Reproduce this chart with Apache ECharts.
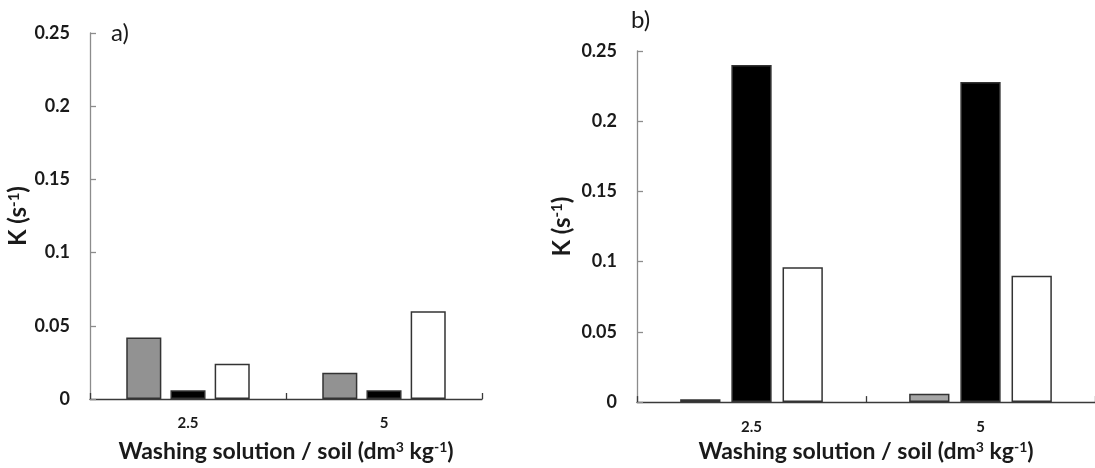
<!DOCTYPE html>
<html>
<head>
<meta charset="utf-8">
<script src="https://cdn.jsdelivr.net/npm/echarts@6/dist/echarts.min.js"></script>
<style>
html,body{margin:0;padding:0;background:#fff;}
#chart{width:1095px;height:468px;}
</style>
</head>
<body>
<div id="chart"></div>
<script>
const categories = ['2.5', '5'];
const panelAGray  = [0.042, 0.018];
const panelABlack = [0.006, 0.006];
const panelAWhite = [0.024, 0.060];
const panelBGray  = [0.002, 0.006];
const panelBBlack = [0.240, 0.228];
const panelBWhite = [0.096, 0.090];
const yMin = 0, yMax = 0.25, yStep = 0.05;

const FONT = 'Lato';
const TXT = '#1a1a1a';
function richFor(size, supSize) {
  return {
    n: { fontFamily: FONT, fontWeight: 'bold', fontSize: size, color: TXT },
    sup: { fontFamily: FONT, fontWeight: 'bold', fontSize: supSize, color: TXT, verticalAlign: 'top' }
  };
}
const xName = '{n|Washing solution / soil (dm}{sup|3}{n| kg}{sup|-1}{n|)}';
const yName = '{n|K (s}{sup|-1}{n|)}';

function xAxis(gi, gap, margin) {
  return {
    type: 'category', gridIndex: gi, data: categories,
    axisLine: { lineStyle: { color: '#3a3a3a', width: 1.3 } },
    axisTick: { show: true, inside: true, length: 6, lineStyle: { color: '#3a3a3a', width: 1.3 } },
    axisLabel: { fontFamily: FONT, fontWeight: 'bold', fontSize: 15, color: TXT, margin: margin },
    name: xName, nameLocation: 'middle', nameGap: gap,
    nameTextStyle: { rich: richFor(23, 14) }
  };
}
function yAxis(gi, gap) {
  return {
    type: 'value', gridIndex: gi, min: yMin, max: yMax, interval: yStep,
    splitLine: { show: false },
    axisLine: { show: true, lineStyle: { color: '#8c8c8c', width: 1.3 } },
    axisTick: { show: true, inside: true, length: 6, lineStyle: { color: '#8c8c8c', width: 1.3 } },
    axisLabel: { fontFamily: FONT, fontWeight: 'bold', fontSize: 18, color: TXT, margin: 20 },
    name: yName, nameLocation: 'middle', nameGap: gap, nameRotate: 90,
    nameTextStyle: { rich: richFor(24, 15) }
  };
}
function bar(xi, data, fill, bw, bg) {
  return {
    type: 'bar', xAxisIndex: xi, yAxisIndex: xi, data: data,
    barWidth: bw, barGap: bg,
    itemStyle: { color: fill, borderColor: '#333', borderWidth: 1.5 },
    emphasis: { disabled: true }, animation: false
  };
}

const chart = echarts.init(document.getElementById('chart'), null, { renderer: 'canvas' });
chart.setOption({
  animation: false,
  backgroundColor: '#fff',
  grid: [
    { left: 90, top: 33, width: 392, height: 369, containLabel: false },
    { left: 637, top: 51, width: 466, height: 355, containLabel: false }
  ],
  xAxis: [xAxis(0, 41, 17), xAxis(1, 35, 18)],
  yAxis: [yAxis(0, 52), yAxis(1, 63)],
  graphic: [
    { type: 'text', left: 111, top: 21, style: { text: 'a)', fontFamily: FONT, fontSize: 24, fill: TXT } },
    { type: 'text', left: 631, top: 8, style: { text: 'b)', fontFamily: FONT, fontSize: 24, fill: TXT } }
  ],
  series: [
    bar(0, panelAGray, '#929292', '17.9%', '26%'),
    bar(0, panelABlack, '#000000', '17.9%', '26%'),
    bar(0, panelAWhite, '#ffffff', '17.9%', '26%'),
    bar(1, panelBGray, '#a6a6a6', '17.6%', '27%'),
    bar(1, panelBBlack, '#000000', '17.6%', '27%'),
    bar(1, panelBWhite, '#ffffff', '17.6%', '27%')
  ]
});
</script>
</body>
</html>
